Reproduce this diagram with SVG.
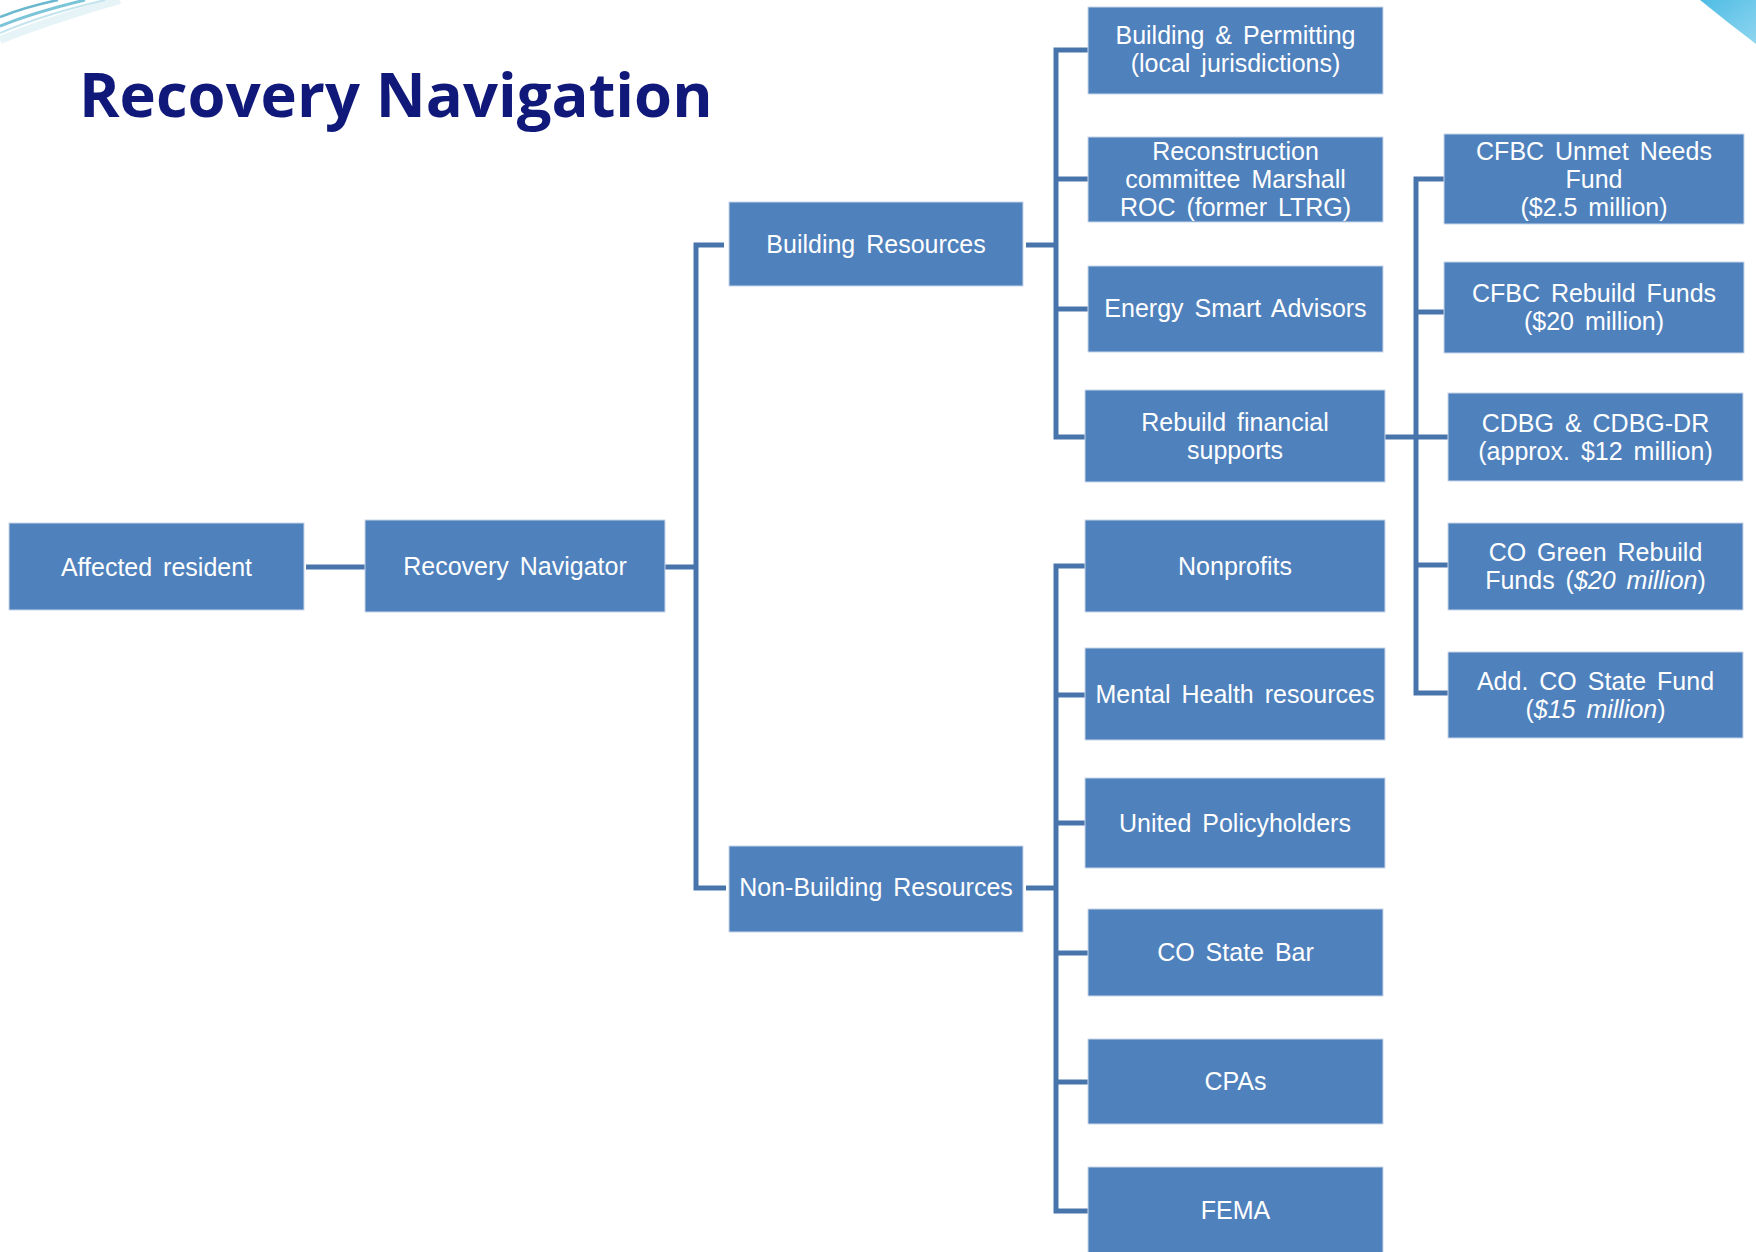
<svg xmlns="http://www.w3.org/2000/svg" width="1756" height="1252" viewBox="0 0 1756 1252">
<defs>
<style>
.box{fill:#4F81BD;stroke:#c9d6ea;stroke-width:1}
.t{font-family:"Liberation Sans",Arial,sans-serif;font-size:25px;fill:#ffffff;text-anchor:middle;word-spacing:4px}
.c{fill:none;stroke:#4874AC;stroke-width:5;stroke-linejoin:miter}
.title{font-family:"Open Sans","Liberation Sans",sans-serif;font-weight:bold;font-size:61.5px;fill:#10197A}
</style>
<linearGradient id="tr" x1="0" y1="0" x2="1" y2="1">
<stop offset="0" stop-color="#4FBCE4"/>
<stop offset="1" stop-color="#8FD6F0"/>
</linearGradient>
</defs>
<rect width="1756" height="1252" fill="#ffffff"/>
<g id="decor">
<path d="M0,40 Q50,20 120,0" fill="none" stroke="#e6f4f7" stroke-width="8"/>
<path d="M0,26 Q35,12 85,0" fill="none" stroke="#7cc4d8" stroke-width="3"/>
<path d="M0,17 Q25,7 58,0" fill="none" stroke="#6ab7cf" stroke-width="2.5"/>
<path d="M0,33 Q45,14 105,0" fill="none" stroke="#c4e4ee" stroke-width="2"/>
<path d="M1700,0 L1756,0 L1756,44 Q1727,22 1700,0 Z" fill="url(#tr)"/>
</g>
<text class="title" x="79" y="117">Recovery Navigation</text>
<g id="connectors">
<path class="c" d="M306,567 H365"/>
<path class="c" d="M665,567 H696"/>
<path class="c" d="M724,245 H696 V888 H726"/>
<path class="c" d="M1026,245 H1056"/>
<path class="c" d="M1088,50 H1056 V437 H1085"/>
<path class="c" d="M1056,179 H1088"/>
<path class="c" d="M1056,309 H1088"/>
<path class="c" d="M1385,437 H1448"/>
<path class="c" d="M1444,179 H1416 V693 H1448"/>
<path class="c" d="M1416,312 H1444"/>
<path class="c" d="M1416,565 H1448"/>
<path class="c" d="M1026,888 H1056"/>
<path class="c" d="M1085,566 H1056 V1211 H1088"/>
<path class="c" d="M1056,695 H1085"/>
<path class="c" d="M1056,823 H1085"/>
<path class="c" d="M1056,953 H1088"/>
<path class="c" d="M1056,1082 H1088"/>
</g>
<g id="affected-resident"><rect class="box" x="9" y="523" width="295" height="87"/><text class="t" x="156.5" y="576">Affected resident</text></g>
<g id="recovery-navigator"><rect class="box" x="365" y="520" width="300" height="92"/><text class="t" x="515" y="575">Recovery Navigator</text></g>
<g id="building-resources"><rect class="box" x="729" y="202" width="294" height="84"/><text class="t" x="876" y="253">Building Resources</text></g>
<g id="non-building-resources"><rect class="box" x="729" y="846" width="294" height="86"/><text class="t" x="876" y="896">Non-Building Resources</text></g>
<g id="building-permitting"><rect class="box" x="1088" y="7" width="295" height="87"/><text class="t" x="1235.5" y="44">Building &amp; Permitting</text><text class="t" x="1235.5" y="72">(local jurisdictions)</text></g>
<g id="reconstruction"><rect class="box" x="1088" y="137" width="295" height="85"/><text class="t" x="1235.5" y="160">Reconstruction</text><text class="t" x="1235.5" y="188">committee Marshall</text><text class="t" x="1235.5" y="216">ROC (former LTRG)</text></g>
<g id="energy-smart"><rect class="box" x="1088" y="266" width="295" height="86"/><text class="t" x="1235.5" y="317">Energy Smart Advisors</text></g>
<g id="rebuild-financial"><rect class="box" x="1085" y="390" width="300" height="92"/><text class="t" x="1235" y="431">Rebuild financial</text><text class="t" x="1235" y="459">supports</text></g>
<g id="nonprofits"><rect class="box" x="1085" y="520" width="300" height="92"/><text class="t" x="1235" y="575">Nonprofits</text></g>
<g id="mental-health"><rect class="box" x="1085" y="648" width="300" height="92"/><text class="t" x="1235" y="703">Mental Health resources</text></g>
<g id="united-policyholders"><rect class="box" x="1085" y="778" width="300" height="90"/><text class="t" x="1235" y="832">United Policyholders</text></g>
<g id="co-state-bar"><rect class="box" x="1088" y="909" width="295" height="87"/><text class="t" x="1235.5" y="961">CO State Bar</text></g>
<g id="cpas"><rect class="box" x="1088" y="1039" width="295" height="85"/><text class="t" x="1235.5" y="1090">CPAs</text></g>
<g id="fema"><rect class="box" x="1088" y="1167" width="295" height="90"/><text class="t" x="1235.5" y="1219">FEMA</text></g>
<g id="cfbc-unmet"><rect class="box" x="1444" y="134" width="300" height="90"/><text class="t" x="1594" y="160">CFBC Unmet Needs</text><text class="t" x="1594" y="188">Fund</text><text class="t" x="1594" y="216">($2.5 million)</text></g>
<g id="cfbc-rebuild"><rect class="box" x="1444" y="262" width="300" height="91"/><text class="t" x="1594" y="302">CFBC Rebuild Funds</text><text class="t" x="1594" y="330">($20 million)</text></g>
<g id="cdbg"><rect class="box" x="1448" y="393" width="295" height="88"/><text class="t" x="1595.5" y="432">CDBG &amp; CDBG-DR</text><text class="t" x="1595.5" y="460">(approx. $12 million)</text></g>
<g id="co-green"><rect class="box" x="1448" y="523" width="295" height="87"/><text class="t" x="1595.5" y="561">CO Green Rebuild</text><text class="t" x="1595.5" y="589">Funds (<tspan font-style="italic">$20 million</tspan>)</text></g>
<g id="add-co-state"><rect class="box" x="1448" y="652" width="295" height="86"/><text class="t" x="1595.5" y="690">Add. CO State Fund</text><text class="t" x="1595.5" y="718">(<tspan font-style="italic">$15 million</tspan>)</text></g>
</svg>
